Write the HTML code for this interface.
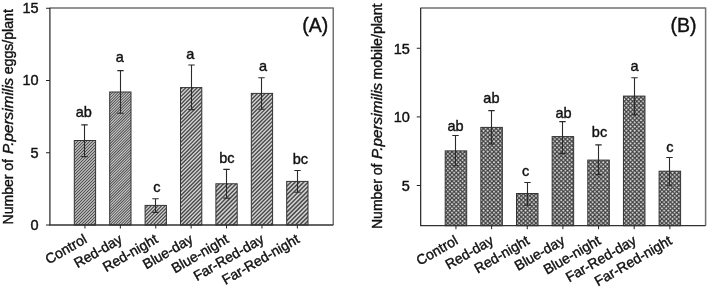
<!DOCTYPE html>
<html><head><meta charset="utf-8"><title>Figure</title>
<style>
html,body{margin:0;padding:0;background:#fff;}
svg{display:block;font-family:"Liberation Sans",sans-serif;fill:#111;}
text{stroke:#111;stroke-width:0.4px;}
</style></head>
<body>
<svg width="709" height="289" viewBox="0 0 709 289">
<defs>
<pattern id="hB" patternUnits="userSpaceOnUse" width="4" height="4" patternTransform="scale(1.05)">
<rect width="4" height="4" fill="#424242"/>
<path d="M0.5 -0.63 L1.63 0.5 L0.5 1.63 L-0.63 0.5Z M4.5 -0.63 L5.63 0.5 L4.5 1.63 L3.37 0.5Z M0.5 3.37 L1.63 4.5 L0.5 5.63 L-0.63 4.5Z M4.5 3.37 L5.63 4.5 L4.5 5.63 L3.37 4.5Z M2.5 1.37 L3.63 2.5 L2.5 3.63 L1.37 2.5Z" fill="#e4e4e4"/>
</pattern>
</defs>
<rect width="709" height="289" fill="#fff"/>
<g opacity="0.999">
<path d="M50.0 8.05 H333.25 V225.0" fill="none" stroke="#727272" stroke-width="1.5" stroke-linejoin="round"/>
<clipPath id="cA0"><rect x="74.30" y="140.50" width="21.30" height="84.50"/></clipPath>
<rect x="74.30" y="140.50" width="21.30" height="84.50" fill="#d4d4d4"/>
<path d="M73.30 138.95L96.60 115.65V117.15L73.30 140.45ZM73.30 141.95L96.60 118.65V120.15L73.30 143.45ZM73.30 144.95L96.60 121.65V123.15L73.30 146.45ZM73.30 147.95L96.60 124.65V126.15L73.30 149.45ZM73.30 150.95L96.60 127.65V129.15L73.30 152.45ZM73.30 153.95L96.60 130.65V132.15L73.30 155.45ZM73.30 156.95L96.60 133.65V135.15L73.30 158.45ZM73.30 159.95L96.60 136.65V138.15L73.30 161.45ZM73.30 162.95L96.60 139.65V141.15L73.30 164.45ZM73.30 165.95L96.60 142.65V144.15L73.30 167.45ZM73.30 168.95L96.60 145.65V147.15L73.30 170.45ZM73.30 171.95L96.60 148.65V150.15L73.30 173.45ZM73.30 174.95L96.60 151.65V153.15L73.30 176.45ZM73.30 177.95L96.60 154.65V156.15L73.30 179.45ZM73.30 180.95L96.60 157.65V159.15L73.30 182.45ZM73.30 183.95L96.60 160.65V162.15L73.30 185.45ZM73.30 186.95L96.60 163.65V165.15L73.30 188.45ZM73.30 189.95L96.60 166.65V168.15L73.30 191.45ZM73.30 192.95L96.60 169.65V171.15L73.30 194.45ZM73.30 195.95L96.60 172.65V174.15L73.30 197.45ZM73.30 198.95L96.60 175.65V177.15L73.30 200.45ZM73.30 201.95L96.60 178.65V180.15L73.30 203.45ZM73.30 204.95L96.60 181.65V183.15L73.30 206.45ZM73.30 207.95L96.60 184.65V186.15L73.30 209.45ZM73.30 210.95L96.60 187.65V189.15L73.30 212.45ZM73.30 213.95L96.60 190.65V192.15L73.30 215.45ZM73.30 216.95L96.60 193.65V195.15L73.30 218.45ZM73.30 219.95L96.60 196.65V198.15L73.30 221.45ZM73.30 222.95L96.60 199.65V201.15L73.30 224.45ZM73.30 225.95L96.60 202.65V204.15L73.30 227.45ZM73.30 228.95L96.60 205.65V207.15L73.30 230.45ZM73.30 231.95L96.60 208.65V210.15L73.30 233.45ZM73.30 234.95L96.60 211.65V213.15L73.30 236.45ZM73.30 237.95L96.60 214.65V216.15L73.30 239.45ZM73.30 240.95L96.60 217.65V219.15L73.30 242.45ZM73.30 243.95L96.60 220.65V222.15L73.30 245.45ZM73.30 246.95L96.60 223.65V225.15L73.30 248.45Z" fill="#4a4a4a" stroke="none" clip-path="url(#cA0)"/>
<rect x="74.30" y="140.50" width="21.30" height="84.50" fill="none" stroke="#333" stroke-width="1"/>
<path d="M84.50 124.90 V156.60 M81.30 124.90 h6.4 M81.30 156.60 h6.4" fill="none" stroke="#2a2a2a" stroke-width="1.1"/>
<text x="83.75" y="116.60" text-anchor="middle" font-size="14.5">ab</text>
<path d="M84.95 225.0 v3.5" stroke="#222" stroke-width="1"/>
<clipPath id="cA1"><rect x="109.70" y="92.00" width="21.30" height="133.00"/></clipPath>
<rect x="109.70" y="92.00" width="21.30" height="133.00" fill="#d4d4d4"/>
<path d="M108.70 90.43L132.00 67.13V68.48L108.70 91.78ZM108.70 93.13L132.00 69.83V71.17L108.70 94.48ZM108.70 95.83L132.00 72.52V73.87L108.70 97.17ZM108.70 98.52L132.00 75.22V76.57L108.70 99.87ZM108.70 101.22L132.00 77.92V79.27L108.70 102.57ZM108.70 103.92L132.00 80.62V81.97L108.70 105.27ZM108.70 106.62L132.00 83.32V84.67L108.70 107.97ZM108.70 109.32L132.00 86.02V87.37L108.70 110.67ZM108.70 112.02L132.00 88.72V90.07L108.70 113.37ZM108.70 114.72L132.00 91.42V92.77L108.70 116.07ZM108.70 117.42L132.00 94.12V95.47L108.70 118.77ZM108.70 120.12L132.00 96.82V98.17L108.70 121.47ZM108.70 122.82L132.00 99.52V100.87L108.70 124.17ZM108.70 125.52L132.00 102.22V103.57L108.70 126.87ZM108.70 128.22L132.00 104.92V106.27L108.70 129.57ZM108.70 130.92L132.00 107.62V108.97L108.70 132.27ZM108.70 133.62L132.00 110.32V111.67L108.70 134.97ZM108.70 136.32L132.00 113.02V114.37L108.70 137.67ZM108.70 139.02L132.00 115.72V117.07L108.70 140.37ZM108.70 141.72L132.00 118.42V119.77L108.70 143.07ZM108.70 144.42L132.00 121.12V122.47L108.70 145.77ZM108.70 147.12L132.00 123.82V125.17L108.70 148.47ZM108.70 149.82L132.00 126.52V127.87L108.70 151.17ZM108.70 152.52L132.00 129.22V130.57L108.70 153.87ZM108.70 155.22L132.00 131.92V133.27L108.70 156.57ZM108.70 157.92L132.00 134.62V135.97L108.70 159.27ZM108.70 160.62L132.00 137.32V138.67L108.70 161.97ZM108.70 163.32L132.00 140.02V141.37L108.70 164.67ZM108.70 166.02L132.00 142.72V144.07L108.70 167.37ZM108.70 168.72L132.00 145.42V146.77L108.70 170.07ZM108.70 171.42L132.00 148.12V149.47L108.70 172.77ZM108.70 174.12L132.00 150.82V152.17L108.70 175.47ZM108.70 176.82L132.00 153.52V154.87L108.70 178.17ZM108.70 179.52L132.00 156.22V157.57L108.70 180.87ZM108.70 182.22L132.00 158.92V160.27L108.70 183.57ZM108.70 184.92L132.00 161.62V162.97L108.70 186.27ZM108.70 187.62L132.00 164.32V165.67L108.70 188.97ZM108.70 190.32L132.00 167.02V168.37L108.70 191.67ZM108.70 193.02L132.00 169.72V171.07L108.70 194.37ZM108.70 195.72L132.00 172.42V173.77L108.70 197.07ZM108.70 198.42L132.00 175.12V176.47L108.70 199.77ZM108.70 201.12L132.00 177.82V179.17L108.70 202.47ZM108.70 203.82L132.00 180.52V181.87L108.70 205.17ZM108.70 206.52L132.00 183.22V184.57L108.70 207.87ZM108.70 209.22L132.00 185.92V187.27L108.70 210.57ZM108.70 211.92L132.00 188.62V189.97L108.70 213.27ZM108.70 214.62L132.00 191.32V192.67L108.70 215.97ZM108.70 217.32L132.00 194.02V195.37L108.70 218.67ZM108.70 220.02L132.00 196.72V198.07L108.70 221.37ZM108.70 222.72L132.00 199.42V200.77L108.70 224.07ZM108.70 225.42L132.00 202.12V203.47L108.70 226.77ZM108.70 228.12L132.00 204.82V206.17L108.70 229.47ZM108.70 230.82L132.00 207.52V208.87L108.70 232.17ZM108.70 233.52L132.00 210.22V211.57L108.70 234.87ZM108.70 236.22L132.00 212.92V214.27L108.70 237.57ZM108.70 238.92L132.00 215.62V216.97L108.70 240.27ZM108.70 241.62L132.00 218.32V219.67L108.70 242.97ZM108.70 244.32L132.00 221.02V222.37L108.70 245.67ZM108.70 247.02L132.00 223.72V225.07L108.70 248.37Z" fill="#4a4a4a" stroke="none" clip-path="url(#cA1)"/>
<rect x="109.70" y="92.00" width="21.30" height="133.00" fill="none" stroke="#333" stroke-width="1"/>
<path d="M120.50 70.60 V113.30 M117.30 70.60 h6.4 M117.30 113.30 h6.4" fill="none" stroke="#2a2a2a" stroke-width="1.1"/>
<text x="119.80" y="62.40" text-anchor="middle" font-size="14.5">a</text>
<path d="M120.35 225.0 v3.5" stroke="#222" stroke-width="1"/>
<clipPath id="cA2"><rect x="145.10" y="205.40" width="21.30" height="19.60"/></clipPath>
<rect x="145.10" y="205.40" width="21.30" height="19.60" fill="#d4d4d4"/>
<path d="M144.10 205.03L167.40 181.72V183.47L144.10 206.78ZM144.10 208.53L167.40 185.22V186.97L144.10 210.28ZM144.10 212.03L167.40 188.72V190.47L144.10 213.78ZM144.10 215.53L167.40 192.22V193.97L144.10 217.28ZM144.10 219.03L167.40 195.72V197.47L144.10 220.78ZM144.10 222.53L167.40 199.22V200.97L144.10 224.28ZM144.10 226.03L167.40 202.72V204.47L144.10 227.78ZM144.10 229.53L167.40 206.22V207.97L144.10 231.28ZM144.10 233.03L167.40 209.72V211.47L144.10 234.78ZM144.10 236.53L167.40 213.22V214.97L144.10 238.28ZM144.10 240.03L167.40 216.72V218.47L144.10 241.78ZM144.10 243.53L167.40 220.22V221.97L144.10 245.28ZM144.10 247.03L167.40 223.72V225.47L144.10 248.78Z" fill="#4a4a4a" stroke="none" clip-path="url(#cA2)"/>
<rect x="145.10" y="205.40" width="21.30" height="19.60" fill="none" stroke="#333" stroke-width="1"/>
<path d="M155.50 198.80 V212.40 M152.30 198.80 h6.4 M152.30 212.40 h6.4" fill="none" stroke="#2a2a2a" stroke-width="1.1"/>
<text x="156.80" y="192.10" text-anchor="middle" font-size="14.5">c</text>
<path d="M155.75 225.0 v3.5" stroke="#222" stroke-width="1"/>
<clipPath id="cA3"><rect x="180.50" y="87.60" width="21.30" height="137.40"/></clipPath>
<rect x="180.50" y="87.60" width="21.30" height="137.40" fill="#d4d4d4"/>
<path d="M179.50 85.55L202.80 62.25V64.15L179.50 87.45ZM179.50 89.35L202.80 66.05V67.95L179.50 91.25ZM179.50 93.15L202.80 69.85V71.75L179.50 95.05ZM179.50 96.95L202.80 73.65V75.55L179.50 98.85ZM179.50 100.75L202.80 77.45V79.35L179.50 102.65ZM179.50 104.55L202.80 81.25V83.15L179.50 106.45ZM179.50 108.35L202.80 85.05V86.95L179.50 110.25ZM179.50 112.15L202.80 88.85V90.75L179.50 114.05ZM179.50 115.95L202.80 92.65V94.55L179.50 117.85ZM179.50 119.75L202.80 96.45V98.35L179.50 121.65ZM179.50 123.55L202.80 100.25V102.15L179.50 125.45ZM179.50 127.35L202.80 104.05V105.95L179.50 129.25ZM179.50 131.15L202.80 107.85V109.75L179.50 133.05ZM179.50 134.95L202.80 111.65V113.55L179.50 136.85ZM179.50 138.75L202.80 115.45V117.35L179.50 140.65ZM179.50 142.55L202.80 119.25V121.15L179.50 144.45ZM179.50 146.35L202.80 123.05V124.95L179.50 148.25ZM179.50 150.15L202.80 126.85V128.75L179.50 152.05ZM179.50 153.95L202.80 130.65V132.55L179.50 155.85ZM179.50 157.75L202.80 134.45V136.35L179.50 159.65ZM179.50 161.55L202.80 138.25V140.15L179.50 163.45ZM179.50 165.35L202.80 142.05V143.95L179.50 167.25ZM179.50 169.15L202.80 145.85V147.75L179.50 171.05ZM179.50 172.95L202.80 149.65V151.55L179.50 174.85ZM179.50 176.75L202.80 153.45V155.35L179.50 178.65ZM179.50 180.55L202.80 157.25V159.15L179.50 182.45ZM179.50 184.35L202.80 161.05V162.95L179.50 186.25ZM179.50 188.15L202.80 164.85V166.75L179.50 190.05ZM179.50 191.95L202.80 168.65V170.55L179.50 193.85ZM179.50 195.75L202.80 172.45V174.35L179.50 197.65ZM179.50 199.55L202.80 176.25V178.15L179.50 201.45ZM179.50 203.35L202.80 180.05V181.95L179.50 205.25ZM179.50 207.15L202.80 183.85V185.75L179.50 209.05ZM179.50 210.95L202.80 187.65V189.55L179.50 212.85ZM179.50 214.75L202.80 191.45V193.35L179.50 216.65ZM179.50 218.55L202.80 195.25V197.15L179.50 220.45ZM179.50 222.35L202.80 199.05V200.95L179.50 224.25ZM179.50 226.15L202.80 202.85V204.75L179.50 228.05ZM179.50 229.95L202.80 206.65V208.55L179.50 231.85ZM179.50 233.75L202.80 210.45V212.35L179.50 235.65ZM179.50 237.55L202.80 214.25V216.15L179.50 239.45ZM179.50 241.35L202.80 218.05V219.95L179.50 243.25ZM179.50 245.15L202.80 221.85V223.75L179.50 247.05ZM179.50 248.95L202.80 225.65V227.55L179.50 250.85Z" fill="#4a4a4a" stroke="none" clip-path="url(#cA3)"/>
<rect x="180.50" y="87.60" width="21.30" height="137.40" fill="none" stroke="#333" stroke-width="1"/>
<path d="M191.50 65.00 V109.60 M188.30 65.00 h6.4 M188.30 109.60 h6.4" fill="none" stroke="#2a2a2a" stroke-width="1.1"/>
<text x="190.20" y="59.40" text-anchor="middle" font-size="14.5">a</text>
<path d="M191.15 225.0 v3.5" stroke="#222" stroke-width="1"/>
<clipPath id="cA4"><rect x="215.90" y="183.80" width="21.30" height="41.20"/></clipPath>
<rect x="215.90" y="183.80" width="21.30" height="41.20" fill="#d4d4d4"/>
<path d="M214.90 183.05L238.20 159.75V161.85L214.90 185.15ZM214.90 187.25L238.20 163.95V166.05L214.90 189.35ZM214.90 191.45L238.20 168.15V170.25L214.90 193.55ZM214.90 195.65L238.20 172.35V174.45L214.90 197.75ZM214.90 199.85L238.20 176.55V178.65L214.90 201.95ZM214.90 204.05L238.20 180.75V182.85L214.90 206.15ZM214.90 208.25L238.20 184.95V187.05L214.90 210.35ZM214.90 212.45L238.20 189.15V191.25L214.90 214.55ZM214.90 216.65L238.20 193.35V195.45L214.90 218.75ZM214.90 220.85L238.20 197.55V199.65L214.90 222.95ZM214.90 225.05L238.20 201.75V203.85L214.90 227.15ZM214.90 229.25L238.20 205.95V208.05L214.90 231.35ZM214.90 233.45L238.20 210.15V212.25L214.90 235.55ZM214.90 237.65L238.20 214.35V216.45L214.90 239.75ZM214.90 241.85L238.20 218.55V220.65L214.90 243.95ZM214.90 246.05L238.20 222.75V224.85L214.90 248.15ZM214.90 250.25L238.20 226.95V229.05L214.90 252.35Z" fill="#4a4a4a" stroke="none" clip-path="url(#cA4)"/>
<rect x="215.90" y="183.80" width="21.30" height="41.20" fill="none" stroke="#333" stroke-width="1"/>
<path d="M226.50 169.40 V198.10 M223.30 169.40 h6.4 M223.30 198.10 h6.4" fill="none" stroke="#2a2a2a" stroke-width="1.1"/>
<text x="226.85" y="162.60" text-anchor="middle" font-size="14.5">bc</text>
<path d="M226.55 225.0 v3.5" stroke="#222" stroke-width="1"/>
<clipPath id="cA5"><rect x="251.30" y="93.40" width="21.30" height="131.60"/></clipPath>
<rect x="251.30" y="93.40" width="21.30" height="131.60" fill="#d4d4d4"/>
<path d="M250.30 91.93L273.60 68.63V70.58L250.30 93.88ZM250.30 95.82L273.60 72.53V74.47L250.30 97.77ZM250.30 99.72L273.60 76.42V78.37L250.30 101.67ZM250.30 103.62L273.60 80.32V82.27L250.30 105.57ZM250.30 107.52L273.60 84.22V86.17L250.30 109.47ZM250.30 111.42L273.60 88.12V90.07L250.30 113.37ZM250.30 115.32L273.60 92.02V93.97L250.30 117.27ZM250.30 119.22L273.60 95.92V97.87L250.30 121.17ZM250.30 123.12L273.60 99.82V101.77L250.30 125.07ZM250.30 127.02L273.60 103.72V105.67L250.30 128.97ZM250.30 130.92L273.60 107.62V109.57L250.30 132.87ZM250.30 134.82L273.60 111.52V113.47L250.30 136.77ZM250.30 138.72L273.60 115.42V117.37L250.30 140.67ZM250.30 142.62L273.60 119.32V121.27L250.30 144.57ZM250.30 146.52L273.60 123.22V125.17L250.30 148.47ZM250.30 150.42L273.60 127.12V129.07L250.30 152.37ZM250.30 154.32L273.60 131.02V132.97L250.30 156.27ZM250.30 158.22L273.60 134.92V136.87L250.30 160.17ZM250.30 162.12L273.60 138.82V140.77L250.30 164.07ZM250.30 166.02L273.60 142.72V144.67L250.30 167.97ZM250.30 169.92L273.60 146.62V148.57L250.30 171.87ZM250.30 173.82L273.60 150.52V152.47L250.30 175.77ZM250.30 177.72L273.60 154.42V156.37L250.30 179.67ZM250.30 181.62L273.60 158.32V160.27L250.30 183.57ZM250.30 185.52L273.60 162.22V164.17L250.30 187.47ZM250.30 189.42L273.60 166.12V168.07L250.30 191.37ZM250.30 193.32L273.60 170.02V171.97L250.30 195.27ZM250.30 197.22L273.60 173.92V175.87L250.30 199.17ZM250.30 201.12L273.60 177.82V179.77L250.30 203.07ZM250.30 205.02L273.60 181.72V183.67L250.30 206.97ZM250.30 208.92L273.60 185.62V187.57L250.30 210.87ZM250.30 212.82L273.60 189.52V191.47L250.30 214.77ZM250.30 216.72L273.60 193.42V195.37L250.30 218.67ZM250.30 220.62L273.60 197.32V199.27L250.30 222.57ZM250.30 224.52L273.60 201.22V203.17L250.30 226.47ZM250.30 228.42L273.60 205.12V207.07L250.30 230.37ZM250.30 232.32L273.60 209.02V210.97L250.30 234.27ZM250.30 236.22L273.60 212.92V214.87L250.30 238.17ZM250.30 240.12L273.60 216.82V218.77L250.30 242.07ZM250.30 244.02L273.60 220.72V222.67L250.30 245.97ZM250.30 247.92L273.60 224.62V226.57L250.30 249.87Z" fill="#4a4a4a" stroke="none" clip-path="url(#cA5)"/>
<rect x="251.30" y="93.40" width="21.30" height="131.60" fill="none" stroke="#333" stroke-width="1"/>
<path d="M261.50 77.70 V109.20 M258.30 77.70 h6.4 M258.30 109.20 h6.4" fill="none" stroke="#2a2a2a" stroke-width="1.1"/>
<text x="263.00" y="70.70" text-anchor="middle" font-size="14.5">a</text>
<path d="M261.95 225.0 v3.5" stroke="#222" stroke-width="1"/>
<clipPath id="cA6"><rect x="286.70" y="181.40" width="21.30" height="43.60"/></clipPath>
<rect x="286.70" y="181.40" width="21.30" height="43.60" fill="#d4d4d4"/>
<path d="M285.70 177.62L309.00 154.33V156.48L285.70 179.77ZM285.70 181.93L309.00 158.63V160.78L285.70 184.07ZM285.70 186.23L309.00 162.93V165.08L285.70 188.38ZM285.70 190.53L309.00 167.23V169.38L285.70 192.68ZM285.70 194.83L309.00 171.53V173.68L285.70 196.98ZM285.70 199.13L309.00 175.83V177.98L285.70 201.28ZM285.70 203.43L309.00 180.13V182.28L285.70 205.58ZM285.70 207.73L309.00 184.43V186.58L285.70 209.88ZM285.70 212.03L309.00 188.73V190.88L285.70 214.18ZM285.70 216.33L309.00 193.03V195.18L285.70 218.48ZM285.70 220.63L309.00 197.33V199.48L285.70 222.78ZM285.70 224.93L309.00 201.63V203.78L285.70 227.08ZM285.70 229.23L309.00 205.93V208.08L285.70 231.38ZM285.70 233.53L309.00 210.23V212.38L285.70 235.68ZM285.70 237.83L309.00 214.53V216.68L285.70 239.98ZM285.70 242.12L309.00 218.83V220.98L285.70 244.27ZM285.70 246.42L309.00 223.12V225.27L285.70 248.57Z" fill="#4a4a4a" stroke="none" clip-path="url(#cA6)"/>
<rect x="286.70" y="181.40" width="21.30" height="43.60" fill="none" stroke="#333" stroke-width="1"/>
<path d="M297.50 170.50 V192.30 M294.30 170.50 h6.4 M294.30 192.30 h6.4" fill="none" stroke="#2a2a2a" stroke-width="1.1"/>
<text x="300.30" y="164.00" text-anchor="middle" font-size="14.5">bc</text>
<path d="M297.35 225.0 v3.5" stroke="#222" stroke-width="1"/>
<path d="M49.9 7.75 V225.0 H333.25" fill="none" stroke="#333" stroke-width="1.3"/>
<path d="M46.0 225.00 h4" stroke="#222" stroke-width="1"/>
<text x="38.6" y="229.80" text-anchor="end" font-size="14.5">0</text>
<path d="M46.0 152.75 h4" stroke="#222" stroke-width="1"/>
<text x="38.6" y="157.55" text-anchor="end" font-size="14.5">5</text>
<path d="M46.0 80.50 h4" stroke="#222" stroke-width="1"/>
<text x="38.6" y="85.30" text-anchor="end" font-size="14.5">10</text>
<path d="M46.0 8.25 h4" stroke="#222" stroke-width="1"/>
<text x="38.6" y="13.05" text-anchor="end" font-size="14.5">15</text>
<text transform="translate(87.95 241.90) rotate(-30)" text-anchor="end" font-size="14.0">Control</text>
<text transform="translate(123.35 241.90) rotate(-30)" text-anchor="end" font-size="14.0">Red-day</text>
<text transform="translate(158.75 241.90) rotate(-30)" text-anchor="end" font-size="14.0">Red-night</text>
<text transform="translate(194.15 241.90) rotate(-30)" text-anchor="end" font-size="14.0">Blue-day</text>
<text transform="translate(229.55 241.90) rotate(-30)" text-anchor="end" font-size="14.0">Blue-night</text>
<text transform="translate(264.95 241.90) rotate(-30)" text-anchor="end" font-size="14.0">Far-Red-day</text>
<text transform="translate(300.35 241.90) rotate(-30)" text-anchor="end" font-size="14.0">Far-Red-night</text>
<text x="302.3" y="31.7" font-size="19.5">(A)</text>
<text transform="translate(13.2 224.4) rotate(-90)" font-size="14.0">Number of</text>
<text transform="translate(13.2 154.0) rotate(-90)" font-size="15.3" font-style="italic">P.persimilis</text>
<text transform="translate(13.2 74.25) rotate(-90)" font-size="14.12">eggs/plant</text>
<path d="M420.75 8.05 H705.6 V225.7" fill="none" stroke="#727272" stroke-width="1.5" stroke-linejoin="round"/>
<rect x="445.20" y="150.90" width="21.50" height="74.80" fill="url(#hB)" stroke="#333" stroke-width="1"/>
<path d="M455.50 135.50 V165.80 M452.30 135.50 h6.4 M452.30 165.80 h6.4" fill="none" stroke="#2a2a2a" stroke-width="1.1"/>
<text x="455.50" y="130.70" text-anchor="middle" font-size="14.5">ab</text>
<path d="M455.95 225.7 v3.5" stroke="#222" stroke-width="1"/>
<rect x="480.85" y="127.40" width="21.50" height="98.30" fill="url(#hB)" stroke="#333" stroke-width="1"/>
<path d="M491.50 110.60 V144.00 M488.30 110.60 h6.4 M488.30 144.00 h6.4" fill="none" stroke="#2a2a2a" stroke-width="1.1"/>
<text x="491.40" y="102.90" text-anchor="middle" font-size="14.5">ab</text>
<path d="M491.60 225.7 v3.5" stroke="#222" stroke-width="1"/>
<rect x="516.50" y="193.50" width="21.50" height="32.20" fill="url(#hB)" stroke="#333" stroke-width="1"/>
<path d="M527.50 182.50 V205.30 M524.30 182.50 h6.4 M524.30 205.30 h6.4" fill="none" stroke="#2a2a2a" stroke-width="1.1"/>
<text x="525.70" y="175.90" text-anchor="middle" font-size="14.5">c</text>
<path d="M527.25 225.7 v3.5" stroke="#222" stroke-width="1"/>
<rect x="552.15" y="136.60" width="21.50" height="89.10" fill="url(#hB)" stroke="#333" stroke-width="1"/>
<path d="M562.50 121.60 V153.60 M559.30 121.60 h6.4 M559.30 153.60 h6.4" fill="none" stroke="#2a2a2a" stroke-width="1.1"/>
<text x="563.50" y="117.50" text-anchor="middle" font-size="14.5">ab</text>
<path d="M562.90 225.7 v3.5" stroke="#222" stroke-width="1"/>
<rect x="587.80" y="160.10" width="21.50" height="65.60" fill="url(#hB)" stroke="#333" stroke-width="1"/>
<path d="M598.50 144.90 V174.60 M595.30 144.90 h6.4 M595.30 174.60 h6.4" fill="none" stroke="#2a2a2a" stroke-width="1.1"/>
<text x="599.50" y="137.10" text-anchor="middle" font-size="14.5">bc</text>
<path d="M598.55 225.7 v3.5" stroke="#222" stroke-width="1"/>
<rect x="623.45" y="96.10" width="21.50" height="129.60" fill="url(#hB)" stroke="#333" stroke-width="1"/>
<path d="M634.50 77.70 V114.80 M631.30 77.70 h6.4 M631.30 114.80 h6.4" fill="none" stroke="#2a2a2a" stroke-width="1.1"/>
<text x="634.50" y="70.70" text-anchor="middle" font-size="14.5">a</text>
<path d="M634.20 225.7 v3.5" stroke="#222" stroke-width="1"/>
<rect x="659.10" y="171.20" width="21.50" height="54.50" fill="url(#hB)" stroke="#333" stroke-width="1"/>
<path d="M669.50 157.50 V185.30 M666.30 157.50 h6.4 M666.30 185.30 h6.4" fill="none" stroke="#2a2a2a" stroke-width="1.1"/>
<text x="669.85" y="152.10" text-anchor="middle" font-size="14.5">c</text>
<path d="M669.85 225.7 v3.5" stroke="#222" stroke-width="1"/>
<path d="M420.65 7.75 V225.7 H705.6" fill="none" stroke="#333" stroke-width="1.3"/>
<path d="M416.75 185.50 h4" stroke="#222" stroke-width="1"/>
<text x="409.9" y="191.00" text-anchor="end" font-size="14.5">5</text>
<path d="M416.75 116.90 h4" stroke="#222" stroke-width="1"/>
<text x="409.9" y="122.40" text-anchor="end" font-size="14.5">10</text>
<path d="M416.75 48.25 h4" stroke="#222" stroke-width="1"/>
<text x="409.9" y="53.75" text-anchor="end" font-size="14.5">15</text>
<text transform="translate(458.95 243.30) rotate(-30)" text-anchor="end" font-size="14.0">Control</text>
<text transform="translate(494.60 243.30) rotate(-30)" text-anchor="end" font-size="14.0">Red-day</text>
<text transform="translate(530.25 243.30) rotate(-30)" text-anchor="end" font-size="14.0">Red-night</text>
<text transform="translate(565.90 243.30) rotate(-30)" text-anchor="end" font-size="14.0">Blue-day</text>
<text transform="translate(601.55 243.30) rotate(-30)" text-anchor="end" font-size="14.0">Blue-night</text>
<text transform="translate(637.20 243.30) rotate(-30)" text-anchor="end" font-size="14.0">Far-Red-day</text>
<text transform="translate(672.85 243.30) rotate(-30)" text-anchor="end" font-size="14.0">Far-Red-night</text>
<text x="670.5" y="31.7" font-size="19.5">(B)</text>
<text transform="translate(382.3 229.0) rotate(-90)" font-size="14.0">Number of</text>
<text transform="translate(382.3 159.0) rotate(-90)" font-size="15.3" font-style="italic">P.persimilis</text>
<text transform="translate(382.3 79.6) rotate(-90)" font-size="14.12">mobile/plant</text>
</g>
</svg>
</body></html>
